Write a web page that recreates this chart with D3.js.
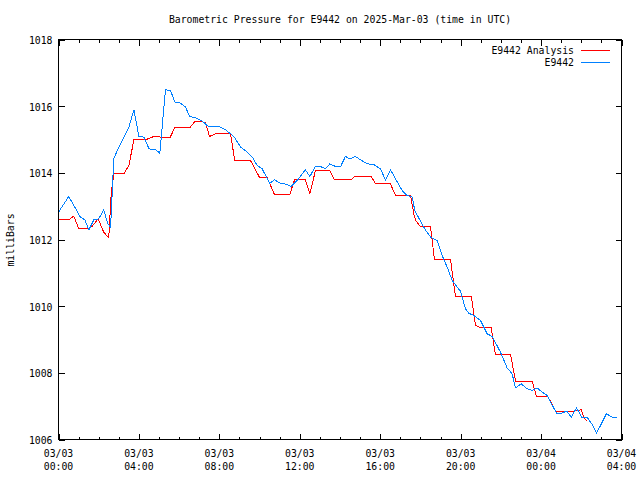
<!DOCTYPE html>
<html>
<head>
<meta charset="utf-8">
<script src="https://cdn.jsdelivr.net/npm/d3@7"></script>
<style>
  html, body { margin: 0; padding: 0; background: #fff; }
  svg { display: block; }
  text { font-family: "DejaVu Sans Mono", "Liberation Mono", monospace; font-size: 11px; fill: #000; }
</style>
</head>
<body>
<svg id="chart" width="640" height="480"></svg>
<script>
// ---- Data (hours since 2025-03-03 00:00 UTC, pressure in millibars) ----
const analysisHours = [0,0.51,0.76,1.01,1.43,1.68,1.97,2.25,2.50,2.62,2.75,3.25,3.50,3.75,4.33,4.74,5.54,5.78,6.53,6.78,7.31,7.51,7.81,8.55,8.77,9.55,10.01,10.38,10.74,11.50,11.74,12.28,12.50,12.78,13.49,13.73,14.56,14.72,15.55,15.77,16.51,16.76,17.51,17.67,17.76,18.00,18.50,18.70,19.50,19.74,20.53,20.74,20.99,21.52,21.73,22.48,22.73,23.56,23.77,24.34,24.72,25.63,26.00,26.13,26.29];
const analysisPressure = [1012.59,1012.59,1012.70,1012.32,1012.32,1012.40,1012.62,1012.22,1012.05,1013.37,1013.97,1013.97,1014.22,1014.99,1014.99,1015.09,1015.05,1015.35,1015.35,1015.54,1015.52,1015.09,1015.17,1015.17,1014.37,1014.37,1013.85,1013.85,1013.35,1013.35,1013.79,1013.79,1013.37,1014.07,1014.07,1013.79,1013.79,1013.89,1013.89,1013.67,1013.67,1013.32,1013.32,1012.77,1012.57,1012.39,1012.39,1011.39,1011.39,1010.29,1010.29,1009.42,1009.35,1009.35,1008.55,1008.55,1007.75,1007.75,1007.29,1007.29,1006.85,1006.85,1006.89,1006.65,1006.55];

const obsHours = [0,0.51,1.09,1.31,1.51,1.76,2.00,2.25,2.45,2.59,2.75,2.92,3.17,3.50,3.75,4.00,4.25,4.50,4.83,5.04,5.32,5.57,5.79,6.07,6.32,6.52,6.81,7.15,7.45,7.97,8.31,8.72,9.06,9.39,9.64,9.88,10.13,10.30,10.51,10.74,11.04,11.37,11.57,11.87,12.28,12.50,12.78,13.03,13.28,13.49,13.78,14.03,14.27,14.49,14.77,15.02,15.35,15.68,16.01,16.26,16.51,16.81,17.09,17.34,17.59,17.72,18.00,18.26,18.51,18.84,19.08,19.33,19.58,19.99,20.24,20.40,20.65,20.99,21.32,21.57,21.98,22.31,22.56,22.73,23.01,23.31,23.56,23.80,24.06,24.30,24.77,25.02,25.27,25.51,25.76,26.04,26.29,26.54,26.76,27.25,27.54,27.79];
const obsPressure = [1012.82,1013.29,1012.67,1012.59,1012.29,1012.59,1012.62,1012.89,1012.47,1012.37,1014.42,1014.67,1014.97,1015.37,1015.89,1015.09,1015.07,1014.72,1014.69,1014.59,1016.49,1016.47,1016.12,1016.09,1015.97,1015.69,1015.65,1015.55,1015.39,1015.39,1015.29,1015.09,1014.77,1014.62,1014.47,1014.22,1014.12,1013.92,1013.69,1013.79,1013.69,1013.65,1013.59,1013.77,1014.09,1013.89,1014.19,1014.19,1014.12,1014.27,1014.19,1014.19,1014.49,1014.42,1014.49,1014.39,1014.27,1014.25,1014.12,1013.79,1014.09,1013.77,1013.47,1013.32,1013.27,1012.87,1012.55,1012.27,1012.07,1011.97,1011.52,1011.17,1010.77,1010.45,1009.92,1009.79,1009.72,1009.57,1009.17,1009.09,1008.62,1008.15,1007.97,1007.55,1007.67,1007.52,1007.47,1007.55,1007.42,1007.32,1006.79,1006.79,1006.85,1006.67,1006.95,1006.65,1006.67,1006.45,1006.19,1006.77,1006.67,1006.67];

const yTickValues = [1006,1008,1010,1012,1014,1016,1018];
const xTickHours = [0,4,8,12,16,20,24,28];
const xTickDays  = ["03/03","03/03","03/03","03/03","03/03","03/03","03/04","03/04"];
const xTickTimes = ["00:00","04:00","08:00","12:00","16:00","20:00","00:00","04:00"];
const minorHours = d3.range(0, 29, 1);

const seriesNames = ["E9442 Analysis", "E9442"];
const seriesColors = ["#ff0000", "#0080ff"];
const titleText = "Barometric Pressure for E9442 on 2025-Mar-03 (time in UTC)";
const yLabelText = "milliBars";

// ---- Layout ----
const L = 58.5, R = 621.5, T = 39.5, B = 439.5;
const CW = 5.9; // char width for monospace squeezing

const t0 = Date.UTC(2025, 2, 3, 0, 0);
const toDate = h => new Date(t0 + h * 3600 * 1000);

const x = d3.scaleUtc().domain([toDate(0), toDate(28)]).range([L, R]);
const y = d3.scaleLinear().domain([1006, 1018]).range([B, T]);

const svg = d3.select("#chart");

function sq(sel, str) {
  sel.attr("textLength", str.length * CW).attr("lengthAdjust", "spacingAndGlyphs");
}

// Title
const title = svg.append("text")
  .attr("x", (L + R) / 2).attr("y", 23)
  .attr("text-anchor", "middle").text(titleText);
sq(title, titleText);

// Lines
const line = d3.line().x(d => x(toDate(d[0]))).y(d => y(d[1]));
const seriesData = [
  d3.zip(analysisHours, analysisPressure),
  d3.zip(obsHours, obsPressure)
];
seriesData.forEach((data, i) => {
  svg.append("path")
    .datum(data)
    .attr("fill", "none")
    .attr("stroke", seriesColors[i])
    .attr("stroke-width", 1)
    .attr("shape-rendering", "crispEdges")
    .attr("d", line);
});

// Axes (ticks inward)
function styleAxis(g) {
  g.select(".domain").remove();
  g.selectAll(".tick line").attr("stroke", "#000").attr("shape-rendering", "crispEdges");
}
const majorX = xTickHours.map(toDate);
const minorX = minorHours.filter(h => h % 4 !== 0).map(toDate);

svg.append("g").attr("transform", `translate(0,${B})`)
  .call(d3.axisBottom(x).tickValues(minorX).tickSize(-3).tickFormat(""))
  .call(styleAxis);
svg.append("g").attr("transform", `translate(0,${T})`)
  .call(d3.axisTop(x).tickValues(minorX).tickSize(-3).tickFormat(""))
  .call(styleAxis);
svg.append("g").attr("transform", `translate(0,${B})`)
  .call(d3.axisBottom(x).tickValues(majorX).tickSize(-6).tickFormat(""))
  .call(styleAxis);
svg.append("g").attr("transform", `translate(0,${T})`)
  .call(d3.axisTop(x).tickValues(majorX).tickSize(-6).tickFormat(""))
  .call(styleAxis);

const yAxisG = svg.append("g").attr("transform", `translate(${L},0)`)
  .call(d3.axisLeft(y).tickValues(yTickValues).tickSize(-6).tickPadding(6).tickFormat(d3.format("d")))
  .call(styleAxis);
yAxisG.attr("font-family", null).attr("font-size", null);
yAxisG.selectAll("text")
  .attr("dy", "0.36em")
  .each(function(d) { sq(d3.select(this), String(d)); });

svg.append("g").attr("transform", `translate(${R},0)`)
  .call(d3.axisRight(y).tickValues(yTickValues).tickSize(-6).tickFormat(""))
  .call(styleAxis);

// X tick labels (two lines)
xTickHours.forEach((h, i) => {
  const t1 = svg.append("text").attr("x", x(toDate(h))).attr("y", 457)
    .attr("text-anchor", "middle").text(xTickDays[i]);
  sq(t1, xTickDays[i]);
  const t2 = svg.append("text").attr("x", x(toDate(h))).attr("y", 470)
    .attr("text-anchor", "middle").text(xTickTimes[i]);
  sq(t2, xTickTimes[i]);
});

// Frame
svg.append("rect")
  .attr("x", L).attr("y", T).attr("width", R - L).attr("height", B - T)
  .attr("fill", "none").attr("stroke", "#000").attr("stroke-width", 1)
  .attr("shape-rendering", "crispEdges");

// Y label
const yl = svg.append("text")
  .attr("transform", `translate(14,240) rotate(-90)`)
  .attr("text-anchor", "middle").text(yLabelText);
sq(yl, yLabelText);

// Legend
seriesNames.forEach((name, i) => {
  const ly = 50.5 + i * 12;
  const lt = svg.append("text").attr("x", 574).attr("y", ly).attr("dy", "0.36em")
    .attr("text-anchor", "end").text(name);
  sq(lt, name);
  svg.append("line")
    .attr("x1", 581).attr("x2", 610).attr("y1", ly).attr("y2", ly)
    .attr("stroke", seriesColors[i]).attr("stroke-width", 1)
    .attr("shape-rendering", "crispEdges");
});
</script>
</body>
</html>
